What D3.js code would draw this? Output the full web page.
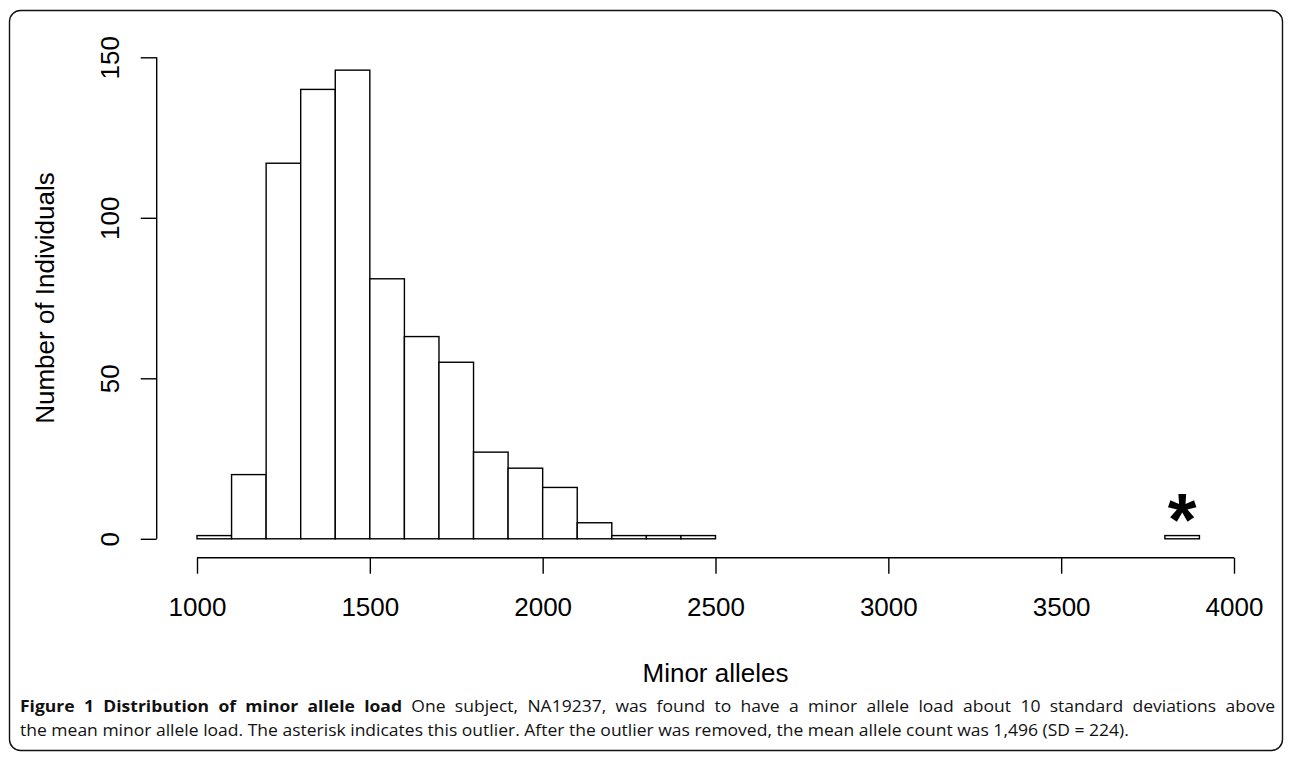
<!DOCTYPE html>
<html>
<head>
    <meta charset="UTF-8" />
    <style>
        body { margin: 0; padding: 0; background: #fff; }
        .bar { fill: #fff; stroke: #000; stroke-width: 1.4px; }
        .axis path, .axis line { stroke: #000; stroke-width: 1.4px; }
        .axis text { font-family: "Liberation Sans", Arial, sans-serif; font-size: 26px; fill: #000; }
        .title { font-family: "Liberation Sans", Arial, sans-serif; font-size: 26px; fill: #000; }
        .caption { font-family: "Open Sans", "Noto Sans", sans-serif; font-size: 16.5px; fill: #111; }
    </style>
    <title>Minor allele load</title>
</head>
<body>
<svg width="1292" height="759"></svg>
<script src="https://d3js.org/d3.v7.min.js"></script>
<script>
    // histogram bins (lower edge) and counts
    const binStarts = [1000, 1100, 1200, 1300, 1400, 1500, 1600, 1700, 1800, 1900,
        2000, 2100, 2200, 2300, 2400, 2500, 2600, 2700, 2800, 2900,
        3000, 3100, 3200, 3300, 3400, 3500, 3600, 3700, 3800]
    const counts = [1, 20, 117, 140, 146, 81, 63, 55, 27, 22,
        16, 5, 1, 1, 1, 0, 0, 0, 0, 0,
        0, 0, 0, 0, 0, 0, 0, 0, 1]
    const binWidth = 100
    const xTicks = [1000, 1500, 2000, 2500, 3000, 3500, 4000]
    const yTicks = [0, 50, 100, 150]
    const outlier = 3850

    const svg = d3.select("svg")

    // frame round the figure
    svg.append("rect")
        .attr("x", 9.5).attr("y", 10.5)
        .attr("width", 1273).attr("height", 740)
        .attr("rx", 11)
        .attr("fill", "none")
        .attr("stroke", "#111")
        .attr("stroke-width", 1.4)

    const x = d3.scaleLinear().domain([1000, 4000]).range([197, 1234])
    const y = d3.scaleLinear().domain([0, 150]).range([538.8, 57.3])

    const bins = binStarts.map((b, i) => ({ x0: b, x1: b + binWidth, n: counts[i] }))

    svg.selectAll(".bar")
        .data(bins)
        .enter().append("rect")
        .attr("class", "bar")
        .attr("x", d => x(d.x0))
        .attr("width", d => x(d.x1) - x(d.x0))
        .attr("y", d => y(d.n))
        .attr("height", d => y(0) - y(d.n))

    // x axis (R style, offset below the bars)
    const xAxis = svg.append("g")
        .attr("class", "axis")
        .attr("transform", "translate(0,557.7)")
        .call(d3.axisBottom(x).tickValues(xTicks).tickFormat(d3.format("d"))
            .tickSize(16).tickSizeOuter(0).tickPadding(24))
    xAxis.select(".domain").attr("d", `M${x(1000)},0H${x(4000)}`)

    // y axis, labels turned
    const yAxis = svg.append("g")
        .attr("class", "axis")
        .attr("transform", "translate(156.7,0)")
        .call(d3.axisLeft(y).tickValues(yTicks).tickSize(16).tickSizeOuter(0))
    yAxis.select(".domain").attr("d", `M0,${y(0)}V${y(150)}`)
    yAxis.selectAll(".tick text")
        .attr("x", 0).attr("dy", 0)
        .attr("transform", "translate(-38,0) rotate(-90)")
        .attr("text-anchor", "middle")

    svg.append("text")
        .attr("class", "title")
        .attr("text-anchor", "middle")
        .attr("transform", `translate(54,${(y(0) + y(150)) / 2}) rotate(-90)`)
        .text("Number of Individuals")

    svg.append("text")
        .attr("class", "title")
        .attr("text-anchor", "middle")
        .attr("x", (x(1000) + x(4000)) / 2)
        .attr("y", 682)
        .text("Minor alleles")

    // asterisk over the outlier
    svg.append("text")
        .attr("x", x(outlier))
        .attr("y", 545)
        .attr("text-anchor", "middle")
        .attr("font-family", "Liberation Sans, Arial, sans-serif")
        .attr("font-weight", "bold")
        .attr("font-size", 74)
        .text("*")

    // caption: narrow the font so line 2 ends where it does, justify line 1 with word spacing
    const cap = svg.append("g")
    const line2 = cap.append("text")
        .attr("class", "caption")
        .attr("x", 0).attr("y", 736)
        .text("the mean minor allele load. The asterisk indicates this outlier. After the outlier was removed, the mean allele count was 1,496 (SD = 224).")
    const sx = 1110 / line2.node().getComputedTextLength()
    cap.attr("transform", `translate(20,0) scale(${sx},1)`)

    const line1 = cap.append("text")
        .attr("class", "caption")
        .attr("x", 0).attr("y", 712)
    line1.append("tspan").attr("font-weight", "bold").text("Figure 1 Distribution of minor allele load")
    line1.append("tspan").text(" One subject, NA19237, was found to have a minor allele load about 10 standard deviations above")
    const natural = line1.node().getComputedTextLength()
    const spaces = line1.text().split(" ").length - 1
    line1.style("word-spacing", ((1255 / sx - natural) / spaces) + "px")
</script>
</body>
</html>
